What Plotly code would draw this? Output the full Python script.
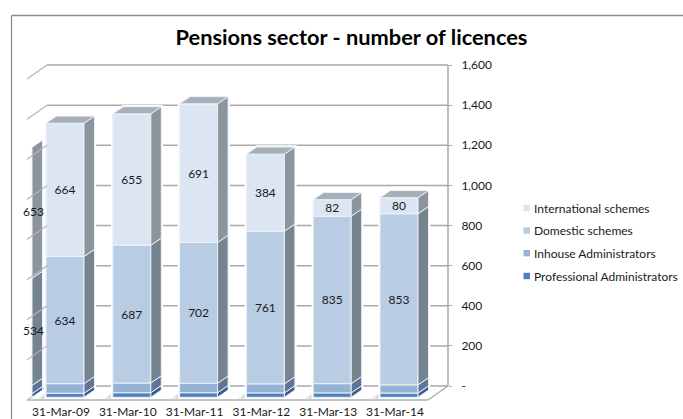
import plotly.graph_objects as go

# Chart data
dates = ["31-Mar-09", "31-Mar-10", "31-Mar-11", "31-Mar-12", "31-Mar-13", "31-Mar-14"]
professional = [20, 23, 23, 22, 22, 21]
inhouse = [48, 48, 47, 45, 46, 41]
domestic = [634, 687, 702, 761, 835, 853]
international = [664, 655, 691, 384, 82, 80]

# Earlier year, of which only the side of the column shows
earlier_professional = 18
earlier_inhouse = 41
earlier_domestic = 534
earlier_international = 653

axis_ticks = [0, 200, 400, 600, 800, 1000, 1200, 1400, 1600]
axis_labels = ["-", "200", "400", "600", "800", "1,000", "1,200", "1,400", "1,600"]

series_names = ["Professional Administrators", "Inhouse Administrators",
                "Domestic schemes", "International schemes"]
front_colors = ["#4f81bd", "#95b3d7", "#b8cce4", "#dce6f2"]
side_colors = ["#3a5f8e", "#5f7596", "#76848f", "#8c949c"]
top_color = "#a7b0b8"
edge_color = "#edf1f7"
grid_color = "#a9a9a9"
frame_color = "#8c8c8c"
FONT = "Lato"
TEXT_SIZE = 12

# Page geometry
W, H = 683, 419
PX_PER_CAT = 66.8
PX_PER_VALUE = 0.2006
ORIGIN_PX = 65            # pixel column of the first category
ZERO_PX = 386
TOP_PX = 65
WALL_RIGHT_PX = 448

# Oblique projection, expressed in axis units
def dx(px):
    return px / PX_PER_CAT

def dv(px):
    return px / PX_PER_VALUE

BAR_W = dx(38)
SIDE_DX, SIDE_DV = dx(10.5), dv(7.2)
FRONT_BASE = -dv(11.3)
WALL_LEFT = dx(47 - ORIGIN_PX)
WALL_RIGHT = dx(WALL_RIGHT_PX - ORIGIN_PX)
FLOOR_DX, FLOOR_DV = dx(-20), -dv(14)

fig = go.Figure()
shapes = []

def poly(points, fill, line=None, width=1, layer="below"):
    path = "M" + "L".join(f"{x:.4f},{y:.3f}" for x, y in points) + "Z"
    return dict(type="path", xref="x", yref="y", path=path, fillcolor=fill,
                line=dict(color=line or "rgba(0,0,0,0)", width=width), layer=layer)

def seg(x0, y0, x1, y1, color=grid_color, width=1.5, layer="below"):
    return dict(type="line", xref="x", yref="y", x0=x0, y0=y0, x1=x1, y1=y1,
                line=dict(color=color, width=width), layer=layer)

# Chart frame, open towards the bottom and the right
shapes.append(dict(type="line", xref="paper", yref="paper", x0=11.5 / W, x1=1,
                   y0=1 - 15.5 / H, y1=1 - 15.5 / H,
                   line=dict(color=frame_color, width=1.3)))
shapes.append(dict(type="line", xref="paper", yref="paper", x0=11.5 / W, x1=11.5 / W,
                   y0=0, y1=1 - 15.5 / H, line=dict(color=frame_color, width=1.3)))

# Floor
shapes.append(poly([(WALL_LEFT + FLOOR_DX, FLOOR_DV), (WALL_LEFT, 0), (WALL_RIGHT, 0),
                    (WALL_RIGHT + FLOOR_DX, FLOOR_DV)], "#ffffff"))
shapes.append(seg(WALL_LEFT + FLOOR_DX, FLOOR_DV, WALL_LEFT, 0, "#bdbdbd", 1.2))
shapes.append(seg(WALL_RIGHT + FLOOR_DX, FLOOR_DV, WALL_RIGHT, 0, "#a9a9a9", 1.2))
shapes.append(seg(WALL_LEFT + FLOOR_DX, FLOOR_DV, WALL_RIGHT + FLOOR_DX, FLOOR_DV, "#c4c4c4", 2))

# Back wall edge and gridlines on the back and left walls
shapes.append(seg(WALL_RIGHT, 0, WALL_RIGHT, axis_ticks[-1]))
for t in axis_ticks:
    shapes.append(seg(WALL_LEFT, t, WALL_RIGHT, t))
    if t:
        shapes.append(seg(WALL_LEFT + FLOOR_DX, t + FLOOR_DV, WALL_LEFT, t,
                          "#b4b4b4", 1.2, "above"))

# Contact shadows on the floor
for i in range(len(dates)):
    left = i - BAR_W / 2
    for reach, alpha in ((9, 0.10), (5, 0.14)):
        shapes.append(poly([(left - dx(reach), FRONT_BASE - dv(1.5)),
                            (left + dx(3), FRONT_BASE - dv(1.5)),
                            (left + dx(3), FRONT_BASE + dv(4)),
                            (left - dx(reach * 0.2), FRONT_BASE + dv(4))],
                           f"rgba(70,70,70,{alpha})"))

def side_face(x_right, low, high, color):
    xs = [x_right, x_right + SIDE_DX, x_right + SIDE_DX, x_right, x_right]
    ys = [low, low + SIDE_DV, high + SIDE_DV, high, low]
    return go.Scatter(x=xs, y=ys, mode="lines", fill="toself", fillcolor=color,
                      line=dict(color=edge_color, width=1), hoverinfo="skip",
                      showlegend=False)

# Side strip of the earlier column, with its two labelled segments
earlier_right = dx(32 - ORIGIN_PX)
earlier_stack = [earlier_professional, earlier_inhouse,
                 earlier_domestic, earlier_international]
base = FRONT_BASE
centres = []
for value, color in zip(earlier_stack, side_colors):
    fig.add_trace(side_face(earlier_right, base, base + value, color))
    centres.append(base + value / 2)
    base += value
fig.add_trace(go.Scatter(x=[earlier_right + dx(1.5)] * 2, y=centres[2:], mode="text",
                         text=[str(earlier_domestic), str(earlier_international)],
                         textposition="middle center",
                         textfont=dict(family=FONT, size=TEXT_SIZE, color="#1a1a1a"),
                         hoverinfo="skip", showlegend=False))

# Stacked columns: front faces as bars, sides and tops as polygons
stack = [professional, inhouse, domestic, international]
running = [FRONT_BASE] * len(dates)
for k, values in enumerate(stack):
    labelled = k >= 2
    fig.add_trace(go.Bar(
        x=list(range(len(dates))), y=values, base=running, width=BAR_W,
        name=series_names[k],
        marker=dict(color=front_colors[k], line=dict(color=edge_color, width=1)),
        text=[str(v) for v in values] if labelled else None,
        textposition="inside" if labelled else "none",
        insidetextanchor="middle", textangle=0,
        textfont=dict(family=FONT, size=TEXT_SIZE, color="#1a1a1a"),
        constraintext="none", showlegend=False))
    for i, v in enumerate(values):
        fig.add_trace(side_face(i + BAR_W / 2, running[i], running[i] + v, side_colors[k]))
    running = [r + v for r, v in zip(running, values)]

for i, top in enumerate(running):
    left, right = i - BAR_W / 2, i + BAR_W / 2
    xs = [left, right, right + SIDE_DX, left + SIDE_DX, left]
    ys = [top, top, top + SIDE_DV, top + SIDE_DV, top]
    fig.add_trace(go.Scatter(x=xs, y=ys, mode="lines", fill="toself", fillcolor=top_color,
                             line=dict(color=edge_color, width=1), hoverinfo="skip",
                             showlegend=False))
    # White halo that parts the gridlines around each column
    shapes.append(poly([(left, FRONT_BASE), (right, FRONT_BASE),
                        (right + SIDE_DX, FRONT_BASE + SIDE_DV),
                        (right + SIDE_DX, top + SIDE_DV), (left + SIDE_DX, top + SIDE_DV),
                        (left, top)], "#ffffff", "#ffffff", 3.5))

# Legend, newest series on top
annotations = []
legend_rows = [208, 230.6, 253.2, 276]
for row, name, color in zip(legend_rows, reversed(series_names), reversed(front_colors)):
    shapes.append(dict(type="rect", xref="paper", yref="paper",
                       x0=523.5 / W, x1=530 / W,
                       y0=1 - (row + 3.2) / H, y1=1 - (row - 3.2) / H,
                       fillcolor=color, line=dict(width=0)))
    annotations.append(dict(xref="paper", yref="paper", x=531.5 / W, y=1 - row / H,
                            text=name, showarrow=False, xanchor="left", yanchor="middle",
                            font=dict(family=FONT, size=TEXT_SIZE, color="#1a1a1a")))

fig.update_layout(
    width=W, height=H, margin=dict(l=0, r=0, t=0, b=0, autoexpand=False),
    paper_bgcolor="white", plot_bgcolor="white", barmode="overlay",
    showlegend=False, shapes=shapes, annotations=annotations,
    title=dict(text="<b>Pensions sector - number of licences</b>", x=351.5 / W, xanchor="center",
               y=1 - 37 / H, yanchor="middle",
               font=dict(family=FONT, size=21.8, color="#000000")),
    xaxis=dict(domain=[0, 1],
               range=[dx(-ORIGIN_PX), dx(W - ORIGIN_PX)],
               anchor="free", position=1 - 403 / H, side="bottom",
               tickmode="array", tickvals=[i - dx(4) for i in range(len(dates))], ticktext=dates,
               ticks="", showgrid=False, zeroline=False, showline=False,
               tickfont=dict(family=FONT, size=TEXT_SIZE, color="#1a1a1a")),
    yaxis=dict(domain=[0, 1], range=[(ZERO_PX - H) / PX_PER_VALUE, ZERO_PX / PX_PER_VALUE],
               tickmode="array", tickvals=axis_ticks, ticktext=axis_labels,
               side="right", anchor="free", position=WALL_RIGHT_PX / W,
               showline=False, ticks="outside", ticklen=3, tickcolor=grid_color, tickwidth=1.2,
               showgrid=False, zeroline=False, ticklabelstandoff=7,
               tickfont=dict(family=FONT, size=TEXT_SIZE, color="#1a1a1a")),
)

fig.write_html("out.html")
